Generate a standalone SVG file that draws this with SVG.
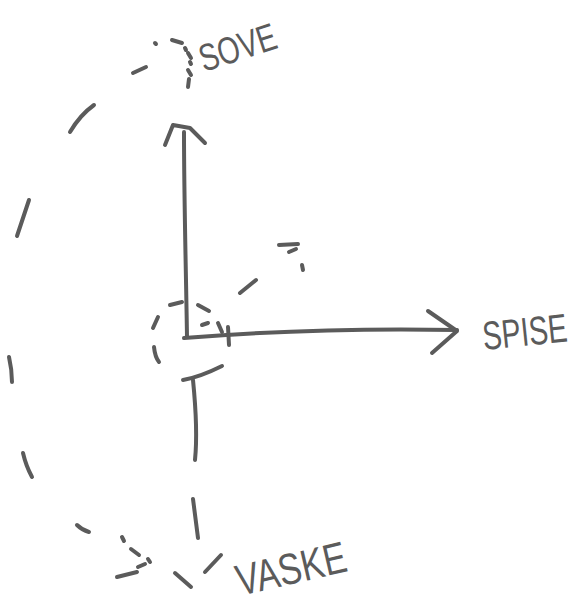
<svg xmlns="http://www.w3.org/2000/svg" width="578" height="607" viewBox="0 0 578 607">
<style>
.s{fill:none;stroke:#5b5b5b;stroke-width:4;stroke-linecap:round;stroke-linejoin:round}
.t{fill:#5b5b5b;font-family:"Liberation Sans",Arial,sans-serif}
</style>
<rect width="578" height="607" fill="#ffffff"/>
<g id="connectors">
  <path class="s" d="M187,337 C186,270 184,200 184,132"/>
  <path class="s" d="M165,145 L173,125 L190,128 L205,143"/>
  <path class="s" d="M184,338 C260,332 360,328 457,330"/>
  <path class="s" d="M428,311 L457,331 L432,353"/>
  <path class="s" d="M228,327 L229,345"/>
  <path class="s" d="M183,380 Q200,377 222,366"/>
  <path class="s" d="M193,380 C195,400 198,430 195,460"/>
  <path class="s" d="M193,499 L198,538"/>
  <path class="s" d="M153,328 L158,317"/>
  <path class="s" d="M154,347 Q155,357 159,362"/>
  <path class="s" d="M170,305 L182,302"/>
  <path class="s" d="M198,305 L209,311"/>
  <path class="s" d="M202,325 L208,323"/>
  <path class="s" d="M218,323 L222,332"/>
  <path class="s" d="M240,293 L256,280"/>
  <path class="s" d="M279,245 L298,244"/>
  <path class="s" d="M289,252 L296,249"/>
  <path class="s" d="M302,265 L303,270"/>
  <path class="s" d="M155,43 L156,44"/>
  <path class="s" d="M133,73 L146,67"/>
  <path class="s" d="M70,132 Q80,115 94,105"/>
  <path class="s" d="M17,236 L29,200"/>
  <path class="s" d="M9,357 Q12,370 12,382"/>
  <path class="s" d="M23,453 Q26,466 32,477"/>
  <path class="s" d="M77,525 Q82,530 89,532"/>
  <path class="s" d="M172,40 L182,43"/>
  <path class="s" d="M185,48 L186,50"/>
  <path class="s" d="M188,53 L191,58"/>
  <path class="s" d="M190,62 L191,64"/>
  <path class="s" d="M188,70 L191,75"/>
  <path class="s" d="M189,79 L188,87"/>
  <path class="s" d="M122,537 L124,541"/>
  <path class="s" d="M131,549 L139,555"/>
  <path class="s" d="M148,559 L150,562"/>
  <path class="s" d="M117,577 L137,572"/>
  <path class="s" d="M138,567 L145,564"/>
  <path class="s" d="M175,573 L191,587"/>
  <path class="s" d="M205,572 L221,555"/>
</g>
<g id="sove">
  <text class="t" x="0" y="0" font-size="38" transform="translate(204,72) rotate(-18) scale(0.75,1)">SOVE</text>
</g>
<g id="spise">
  <text class="t" x="0" y="0" font-size="40" transform="translate(484,350) rotate(-6) scale(0.72,1)">SPISE</text>
</g>
<g id="vaske">
  <text class="t" x="0" y="0" font-size="44" transform="translate(240,596) rotate(-13) scale(0.78,1)">VASKE</text>
</g>
</svg>
